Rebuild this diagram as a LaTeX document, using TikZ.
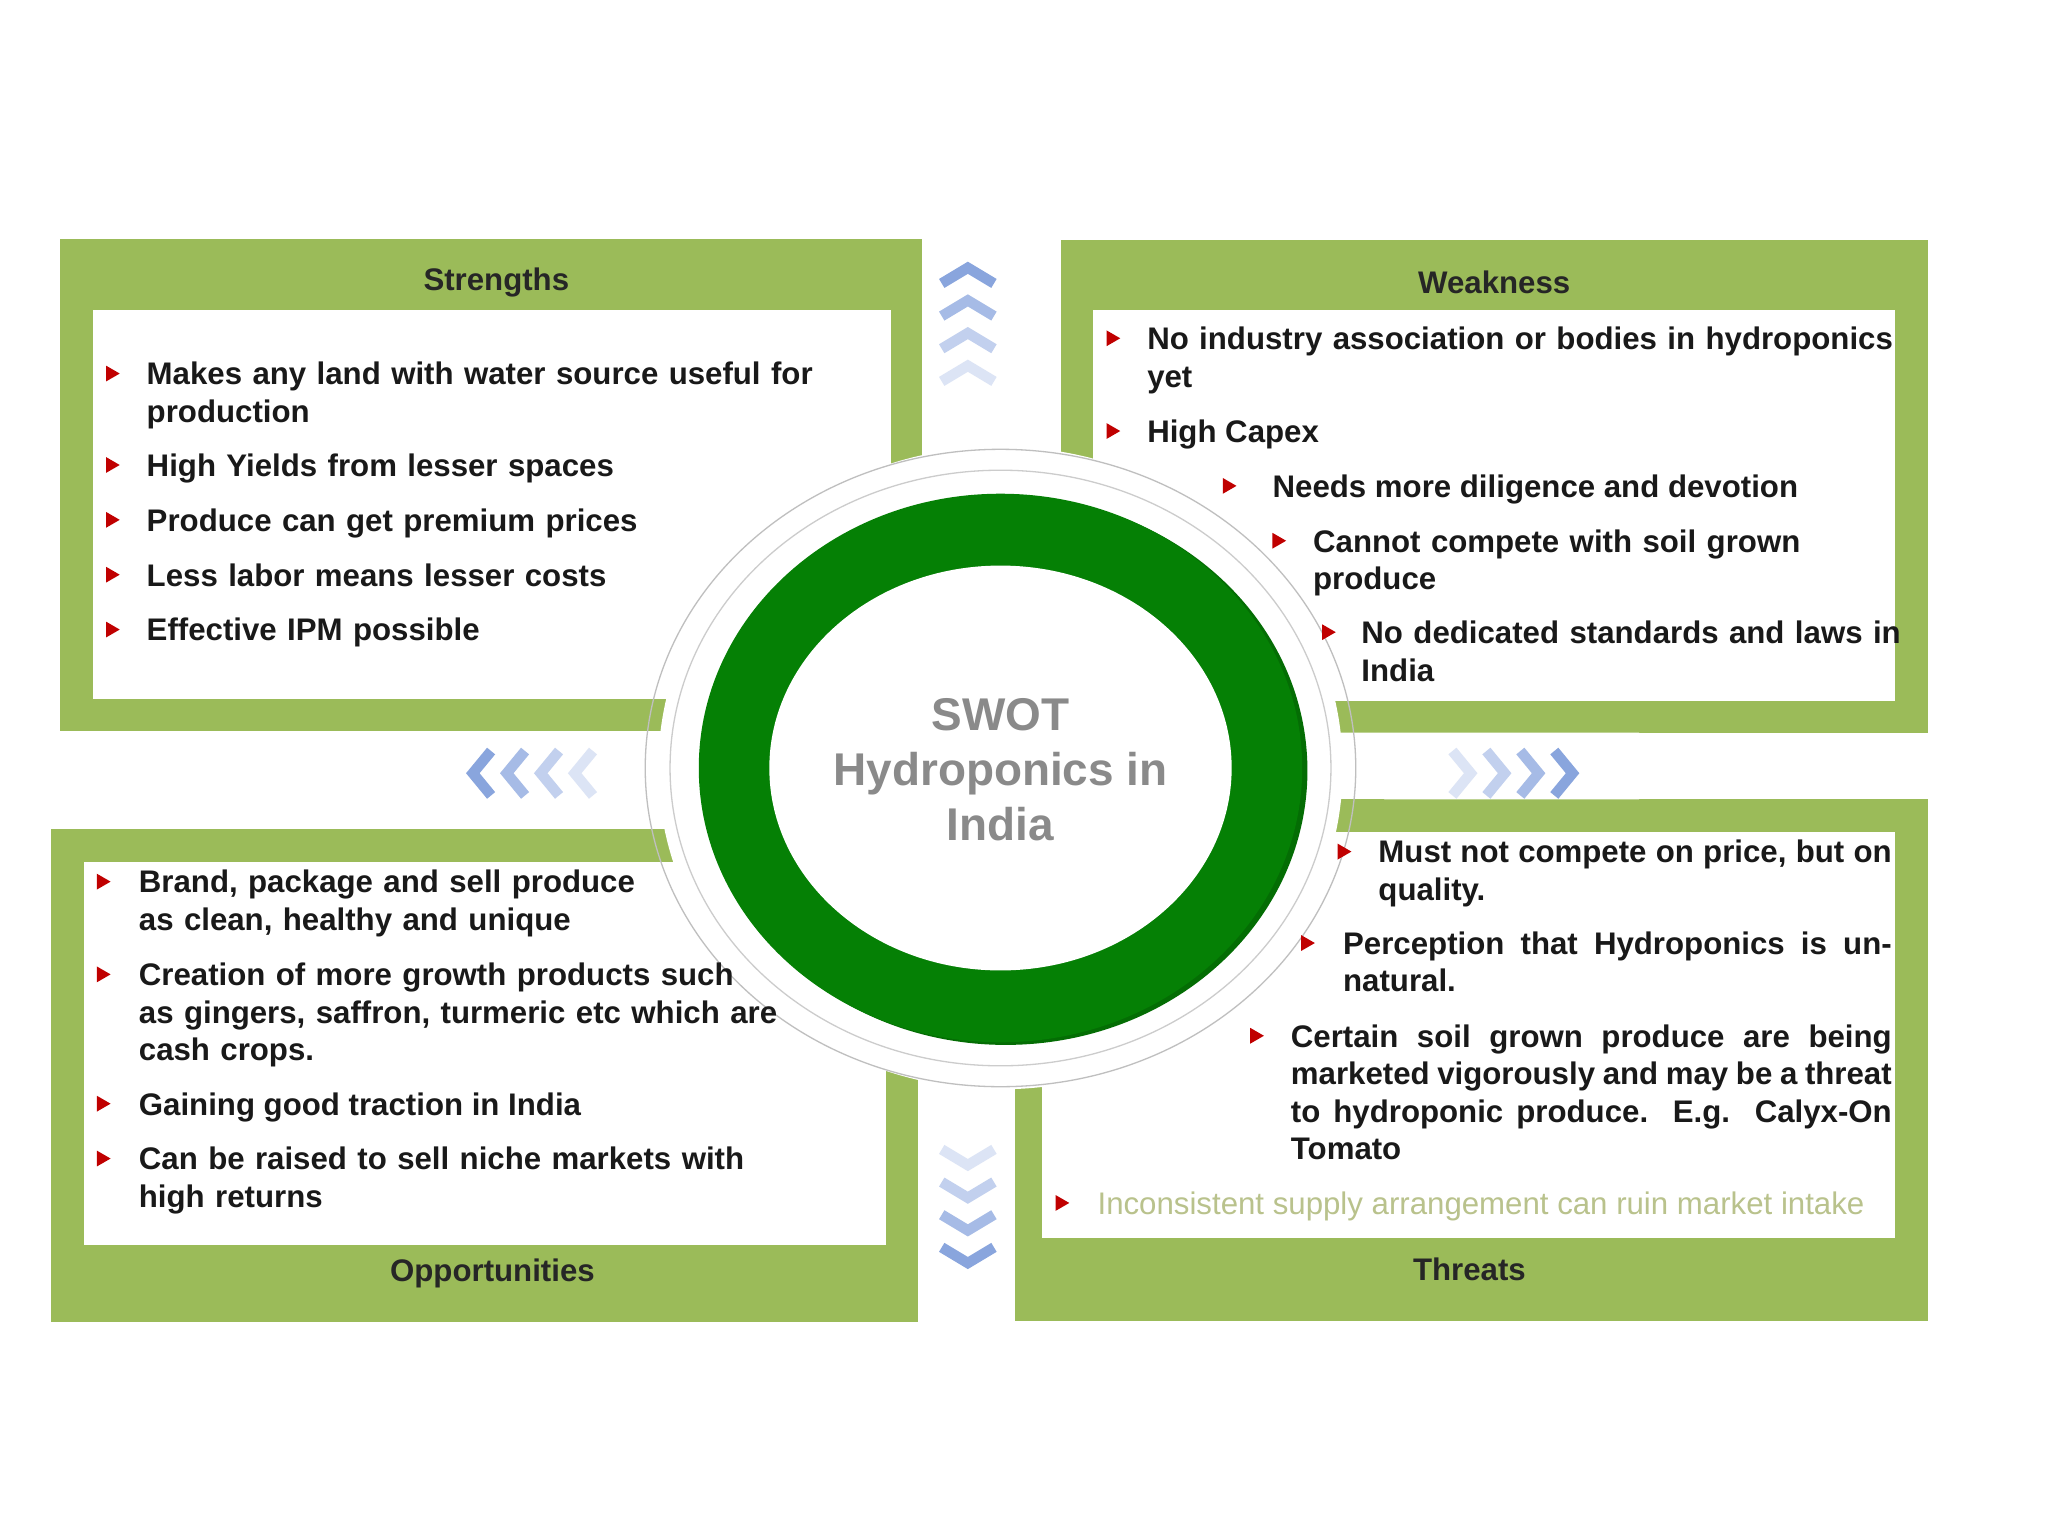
\documentclass[tikz,border=0pt]{standalone}
\usepackage{fontspec}
\setmainfont{Liberation Sans}
\definecolor{gbox}{HTML}{9BBB59}
\definecolor{gcirc}{HTML}{058005}
\definecolor{bred}{HTML}{C00000}
\definecolor{cgray}{HTML}{8A8A8A}
\definecolor{tgray}{HTML}{B9C28C}
\definecolor{ch1}{HTML}{DCE4F5}
\definecolor{ch2}{HTML}{C2D0EE}
\definecolor{ch3}{HTML}{A6BBE6}
\definecolor{ch4}{HTML}{89A5DD}
\tikzset{
 outerbox/.style={fill=gbox,draw=none},
 innerbox/.style={fill=white,draw=none},
 ttl/.style={font=\fontsize{13.6}{16}\selectfont\bfseries,text=black!85,inner sep=0pt},
 itm/.style={font=\fontsize{13.6}{16.4}\selectfont\bfseries,text=black!90,inner sep=0pt,anchor=north west,align=left},
 jit/.style={itm,align=justify},
 bul/.style={fill=bred,draw=none,isosceles triangle,isosceles triangle apex angle=60,minimum size=0pt,inner sep=1.6pt,anchor=center},
 chev/.style={line width=0.16cm,line join=miter},
}
\usetikzlibrary{shapes.geometric}
\begin{document}
\begin{tikzpicture}[x=0.02cm,y=-0.02cm]
\useasboundingbox (0,0) rectangle (1568,1176);
\fill[white] (0,0) rectangle (1568,1176);
% boxes
\fill[outerbox] (46,183) rectangle (706,560);
\fill[outerbox] (812,184) rectangle (1476,561);
\fill[outerbox] (39,635) rectangle (703,1012);
\fill[outerbox] (777,612) rectangle (1476,1011);
\fill[white] (313,560) rectangle (540,635);
\fill[white] (1000,561) -- (1255,561) -- (1255,612) -- (1060,612) -- cycle;
\fill[innerbox] (71,237) rectangle (682,535);
\fill[innerbox] (837,237) rectangle (1451,537);
\fill[innerbox] (64,660) rectangle (678,953);
\fill[innerbox] (798,637) rectangle (1451,948);
% circle area
\fill[white] (766,588) ellipse [x radius=262, y radius=246];
\draw[black!25,line width=0.02cm] (766,588) ellipse [x radius=272, y radius=244];
\draw[black!20,line width=0.02cm] (766,588) ellipse [x radius=253, y radius=228];
\fill[gcirc!85!black] (770,590) ellipse [x radius=231, y radius=210];
\fill[gcirc] (766,588) ellipse [x radius=231, y radius=210];
\fill[white] (766,588) ellipse [x radius=177, y radius=155];
\node[font=\fontsize{20}{24}\selectfont\bfseries,text=cgray,align=center] (c) at (766,589) {SWOT\\Hydroponics in\\India};
% titles
\node[ttl] (ts) at (380,216) {Strengths};
\node[ttl] (tw) at (1144,216) {Weakness};
\node[ttl] (to) at (377,975) {Opportunities};
\node[ttl] (tt) at (1125,972) {Threats};
% chevrons
\foreach \c/\y in {ch4/205,ch3/230,ch2/255,ch1/280}
 \draw[chev,\c] (721,\y+12) -- (741,\y) -- (761,\y+12);
\foreach \c/\y in {ch1/892,ch2/917,ch3/942,ch4/967}
 \draw[chev,\c] (721,\y-12) -- (741,\y) -- (761,\y-12);
\foreach \c/\x in {ch4/362,ch3/388,ch2/414,ch1/440}
 \draw[chev,\c] (\x+14,575) -- (\x,592) -- (\x+14,609);
\foreach \c/\x in {ch1/1126,ch2/1152,ch3/1178,ch4/1204}
 \draw[chev,\c] (\x-14,575) -- (\x,592) -- (\x-14,609);
% Strengths
\foreach \y/\t [count=\i] in {292/{Makes any land with water source useful for production},362/{High Yields from lesser spaces},404/{Produce can get premium prices},446/{Less labor means lesser costs},488/{Effective IPM possible}}{
 \node[bul] (sb\i) at (84,\y-6) {};
 \node[itm,text width=520*0.02cm] (s\i) at (112,\y-15) {\t};
}
% Weakness
\node[bul] (wb1) at (850,259) {}; \node[itm,text width=575*0.02cm] (w1) at (878,250) {No industry association or bodies in hydroponics yet};
\node[bul] (wb2) at (850,330) {}; \node[itm] (w2) at (878,321) {High Capex};
\node[bul] (wb3) at (939,372) {}; \node[itm] (w3) at (974,363) {Needs more diligence and devotion};
\node[bul] (wb4) at (977,414) {}; \node[itm,text width=400*0.02cm] (w4) at (1005,405) {Cannot compete with soil grown produce};
\node[bul] (wb5) at (1015,484) {}; \node[itm,text width=415*0.02cm] (w5) at (1042,475) {No dedicated standards and laws in India};
% Opportunities
\node[bul] (ob1) at (77,675) {}; \node[itm,text width=400*0.02cm] (o1) at (106,666) {Brand, package and sell produce as clean, healthy and unique};
\node[bul] (ob2) at (77,746) {}; \node[itm,text width=515*0.02cm] (o2) at (106,737) {Creation of more growth products such as gingers, saffron, turmeric etc which are cash crops.};
\node[bul] (ob3) at (77,845) {}; \node[itm] (o3) at (106,836) {Gaining good traction in India};
\node[bul] (ob4) at (77,887) {}; \node[itm,text width=520*0.02cm] (o4) at (106,878) {Can be raised to sell niche markets with high returns};
% Threats
\node[bul] (tb1) at (1027,652) {}; \node[jit,text width=393*0.02cm] (t1) at (1055,643) {Must not compete on price, but on quality.};
\node[bul] (tb2) at (999,722) {}; \node[jit,text width=420*0.02cm] (t2) at (1028,713) {Perception that Hydroponics is unnatural.};
\node[bul] (tb3) at (960,793) {}; \node[jit,text width=460*0.02cm] (t3) at (988,784) {Certain soil grown produce are being marketed vigorously and may be a threat to hydroponic produce. E.g. Calyx-On Tomato};
\node[bul] (tb4) at (811,921) {}; \node[itm,font=\fontsize{13.6}{16.4}\selectfont,text=tgray] (t4) at (840,912) {Inconsistent supply arrangement can ruin market intake};
\end{tikzpicture}
\end{document}
